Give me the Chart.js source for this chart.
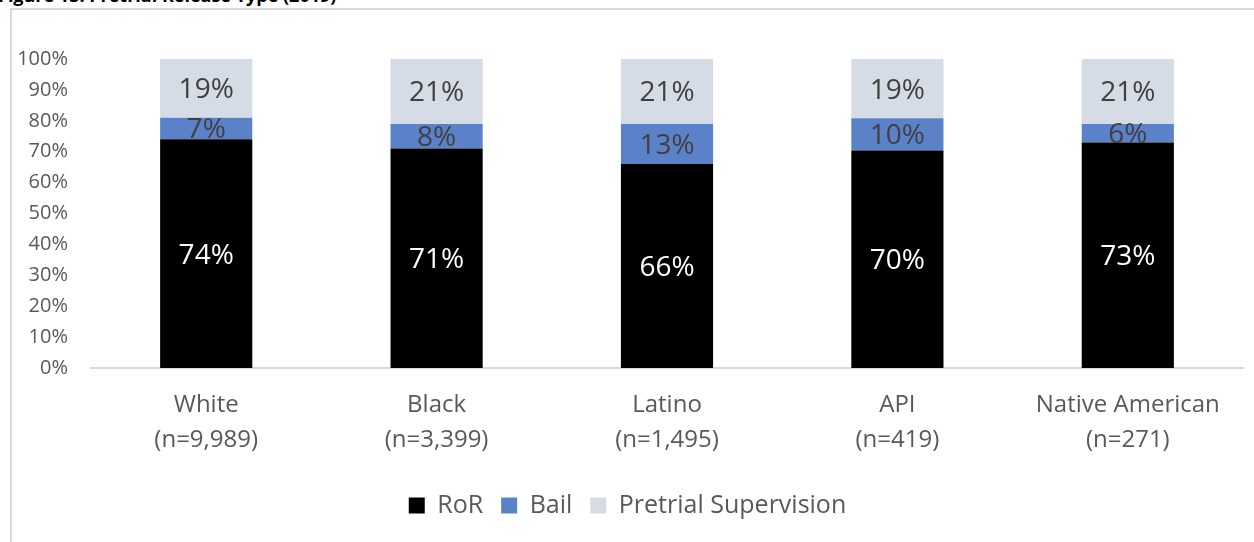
<!DOCTYPE html>
<html>
<head>
<meta charset="utf-8">
<script src="https://cdn.jsdelivr.net/npm/chart.js@4.4.1/dist/chart.umd.min.js"></script>
<style>
  html, body { margin: 0; padding: 0; background: #fff; overflow: hidden; }
  #wrap { position: relative; width: 1254px; height: 542px; overflow: hidden; }
  #frame { position: absolute; left: 10px; top: 8px; width: 1400px; height: 700px; border: 2px solid #d9d9d9; box-sizing: border-box; }
  #title { position: absolute; left: -2px; top: -15px; font: bold 18px/20px "Open Sans", sans-serif; color: #000; white-space: nowrap; }
  canvas { position: absolute; left: 0; top: 0; }
</style>
</head>
<body>
<div id="wrap">
  <div id="frame"></div>
  <div id="title">Figure 13: Pretrial Release Type (2019)</div>
  <canvas id="c" width="1254" height="542"></canvas>
</div>
<script>
const categories = [["White", "(n=9,989)"], ["Black", "(n=3,399)"], ["Latino", "(n=1,495)"], ["API", "(n=419)"], ["Native American", "(n=271)"]];
const rorValues = [74, 71, 66, 70.4, 73];
const bailValues = [7, 8, 13, 10.4, 6];
const supervisionValues = [19, 21, 21, 19.2, 21];
const yTicks = [0, 10, 20, 30, 40, 50, 60, 70, 80, 90, 100];
const seriesNames = ["RoR", "Bail", "Pretrial Supervision"];

const labelColors = ["#ffffff", "#404040", "#404040"];

const barLabels = {
  id: "barLabels",
  afterDatasetsDraw(chart) {
    const ctx = chart.ctx;
    ctx.save();
    ctx.font = '28px "Open Sans", sans-serif';
    ctx.textAlign = "center";
    ctx.textBaseline = "middle";
    chart.data.datasets.forEach((ds, i) => {
      const meta = chart.getDatasetMeta(i);
      meta.data.forEach((el, j) => {
        const v = ds.data[j];
        ctx.fillStyle = labelColors[i];
        ctx.fillText(Math.round(v) + "%", el.x, (el.y + el.base) / 2 + 2);
      });
    });
    ctx.restore();
  }
};

new Chart(document.getElementById("c"), {
  type: "bar",
  data: {
    labels: categories,
    datasets: [
      { label: seriesNames[0], data: rorValues, backgroundColor: "#000000" },
      { label: seriesNames[1], data: bailValues, backgroundColor: "#5B82C9" },
      { label: seriesNames[2], data: supervisionValues, backgroundColor: "#D6DCE5" }
    ]
  },
  options: {
    responsive: false,
    animation: false,
    devicePixelRatio: 1,
    layout: { padding: { left: 12, right: 11, top: 59, bottom: 14 } },
    datasets: { bar: { categoryPercentage: 1.0, barPercentage: 0.4 } },
    scales: {
      x: {
        stacked: true,
        grid: { display: false, drawTicks: false },
        border: { display: true, color: "#d9d9d9", width: 2 },
        ticks: { color: "#595959", font: { family: "Open Sans", size: 24, lineHeight: 1.46 }, padding: 20 },
        afterFit(scale) { scale.height = 107; }
      },
      y: {
        stacked: true,
        min: 0, max: 100,
        afterBuildTicks(scale) { scale.ticks = yTicks.map(v => ({ value: v })); },
        grid: { display: false, drawTicks: false },
        border: { display: false },
        ticks: { color: "#595959", font: { family: "Open Sans", size: 20 }, padding: 23, callback: v => v + "%" },
        afterFit(scale) { scale.width = 79; }
      }
    },
    plugins: {
      legend: {
        position: "bottom",
        labels: { color: "#595959", font: { family: "Open Sans", size: 25 }, boxWidth: 16, boxHeight: 16, padding: 18 }
      },
      tooltip: { enabled: false },
      title: { display: false }
    }
  },
  plugins: [barLabels]
});
</script>
</body>
</html>
